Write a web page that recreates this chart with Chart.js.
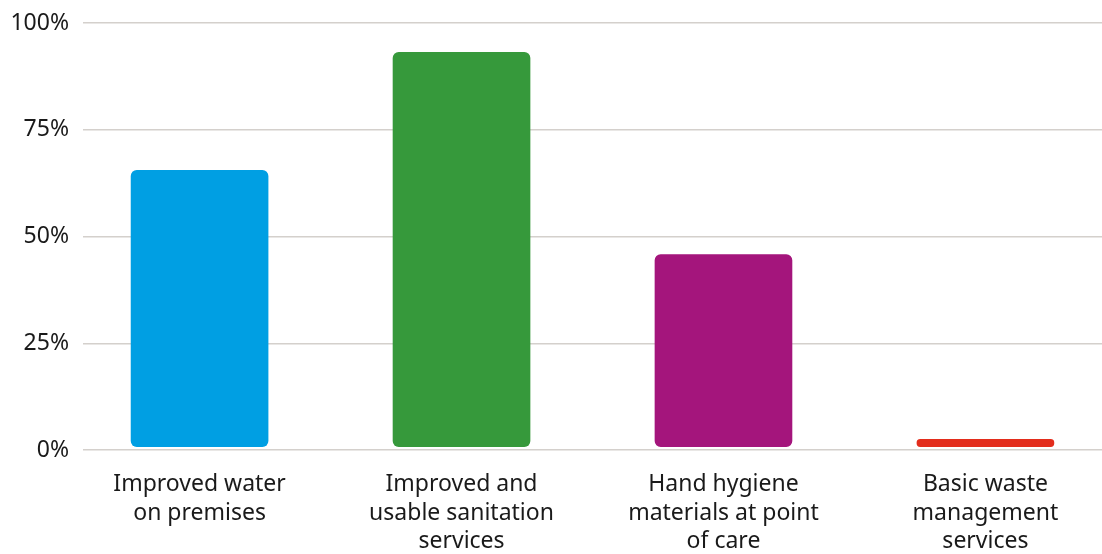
<!DOCTYPE html>
<html>
<head>
<meta charset="utf-8">
<script src="https://cdn.jsdelivr.net/npm/chart.js@4"></script>
<style>
  html, body { margin: 0; padding: 0; background: #fff; }
  #wrap { width: 1102px; height: 554px; }
</style>
</head>
<body>
<div id="wrap"><canvas id="wash"></canvas></div>
<script>
const categories = [
  ["Improved water", "on premises"],
  ["Improved and", "usable sanitation", "services"],
  ["Hand hygiene", "materials at point", "of care"],
  ["Basic waste", "management", "services"],
];
const shares = [65.5, 93.2, 45.8, 2.5];
const barColors = ["#009fe3", "#36993b", "#a4157c", "#e32d1c"];
const yTicks = [0, 25, 50, 75, 100];

Chart.defaults.font.family = "'Noto Sans', sans-serif";
Chart.defaults.font.size = 23;
Chart.defaults.color = "#1a1a1a";

const points = shares.map((v, i) => ({ x: i, y: v }));

new Chart(document.getElementById("wash").getContext("2d"), {
  type: "bar",
  data: {
    datasets: [
      {
        data: points,
        backgroundColor: barColors,
        borderWidth: 0,
        borderRadius: 6,
        borderSkipped: false,
        barThickness: 137,
        base: 0.8,
      },
    ],
  },
  options: {
    responsive: true,
    maintainAspectRatio: false,
    animation: false,
    layout: { padding: { top: 23, right: 0, bottom: 0, left: 0 } },
    plugins: { legend: { display: false }, tooltip: { enabled: false } },
    scales: {
      x: {
        type: "linear",
        offset: false,
        min: -0.445,
        max: 3.445,
        grid: { display: false, drawTicks: false },
        border: { display: false },
        ticks: {
          stepSize: 1,
          includeBounds: false,
          autoSkip: false,
          maxRotation: 0,
          padding: 20,
          font: { lineHeight: 1.25 },
          callback: (v) => (Number.isInteger(v) ? categories[v] : ""),
        },
        afterFit: (scale) => {
          scale.height = 104;
        },
      },
      y: {
        min: 0,
        max: 100,
        grid: { color: "#d4d0cc", lineWidth: 1.5, drawTicks: false },
        border: { display: false },
        afterBuildTicks: (scale) => {
          scale.ticks = yTicks.map((v) => ({ value: v }));
        },
        ticks: {
          padding: 14,
          font: { lineHeight: 0.8 },
          callback: (v) => v + "%",
        },
        afterFit: (scale) => {
          scale.width = 83;
        },
      },
    },
  },
});
</script>
</body>
</html>
